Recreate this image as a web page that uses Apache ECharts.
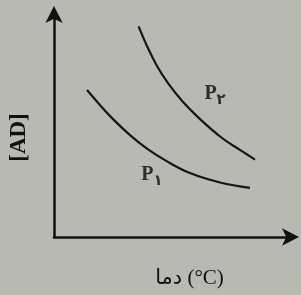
<!DOCTYPE html>
<html><head><meta charset="utf-8">
<script src="https://cdn.jsdelivr.net/npm/echarts@6/dist/echarts.min.js"></script>
<style>html,body{margin:0;padding:0;background:#b8b9b3;}#c{width:301px;height:295px;}</style>
</head><body><div id="c"></div>
<script>
// Curve P1 (lower)
const p1X = [13.8, 19.2, 24.7, 31.8, 38.9, 47.3, 56.9, 69.5, 82.0];
const p1Y = [65.3, 58.7, 52.4, 45.3, 39.3, 33.6, 28.4, 24.2, 21.8];
// Curve P2 (upper)
const p2X = [35.4, 38.9, 43.1, 47.7, 54.0, 61.1, 70.3, 77.8, 84.1];
const p2Y = [93.6, 84.9, 76.0, 68.4, 60.0, 52.4, 44.0, 38.7, 34.4];
const labelNames = ['P|۱', 'P|۲'];
const labelX = [41, 67.4];
const labelY = [27.5, 63.5];
const xName = 'دما (°C)';
const yName = '[AD]';

const pair = (xs, ys) => xs.map((x, i) => [x, ys[i]]);
const chart = echarts.init(document.getElementById('c'), null, {renderer: 'canvas'});
const axisLine = {show: true, symbol: ['none', 'arrow'], symbolSize: [13, 17], symbolOffset: [0, 6],
  lineStyle: {color: '#111', width: 2.5}};
chart.setOption({
  backgroundColor: '#b8b9b3',
  animation: false,
  grid: {left: 54, right: 8, top: 12, bottom: 58},
  xAxis: {type: 'value', min: 0, max: 100, axisLine, axisTick: {show: false}, axisLabel: {show: false},
    splitLine: {show: false}, name: xName, nameLocation: 'middle', nameGap: 31,
    nameTextStyle: {fontFamily: '"Liberation Serif", "DejaVu Sans"', fontSize: 21, color: '#111', padding: [0, 0, 0, 32]}},
  yAxis: {type: 'value', min: 0, max: 100, axisLine, axisTick: {show: false}, axisLabel: {show: false},
    splitLine: {show: false}, name: yName, nameLocation: 'middle', nameGap: 23,
    nameTextStyle: {fontFamily: '"Liberation Serif"', fontWeight: 'bold', fontSize: 23, color: '#111', padding: [0, 26, 0, 0]}},
  series: [
    {type: 'line', data: pair(p1X, p1Y), smooth: 0.4, symbol: 'none', lineStyle: {color: '#151515', width: 2.2}},
    {type: 'line', data: pair(p2X, p2Y), smooth: 0.4, symbol: 'none', lineStyle: {color: '#151515', width: 2.2}},
    {type: 'scatter', symbolSize: 0, silent: true,
      data: labelNames.map((n, i) => ({value: [labelX[i], labelY[i]], name: n})),
      label: {show: true, position: 'inside',
        formatter: p => { const [a, b] = p.name.split('|'); return '{p|' + a + '}{s|' + b + '}'; },
        rich: {
          p: {fontFamily: '"Liberation Serif"', fontWeight: 'bold', fontSize: 20, color: '#0a0a0a'},
          s: {fontFamily: '"DejaVu Sans"', fontWeight: 'bold', fontSize: 15, color: '#0a0a0a', padding: [12, 0, 0, 0]}
        }}}
  ]
});
</script></body></html>
